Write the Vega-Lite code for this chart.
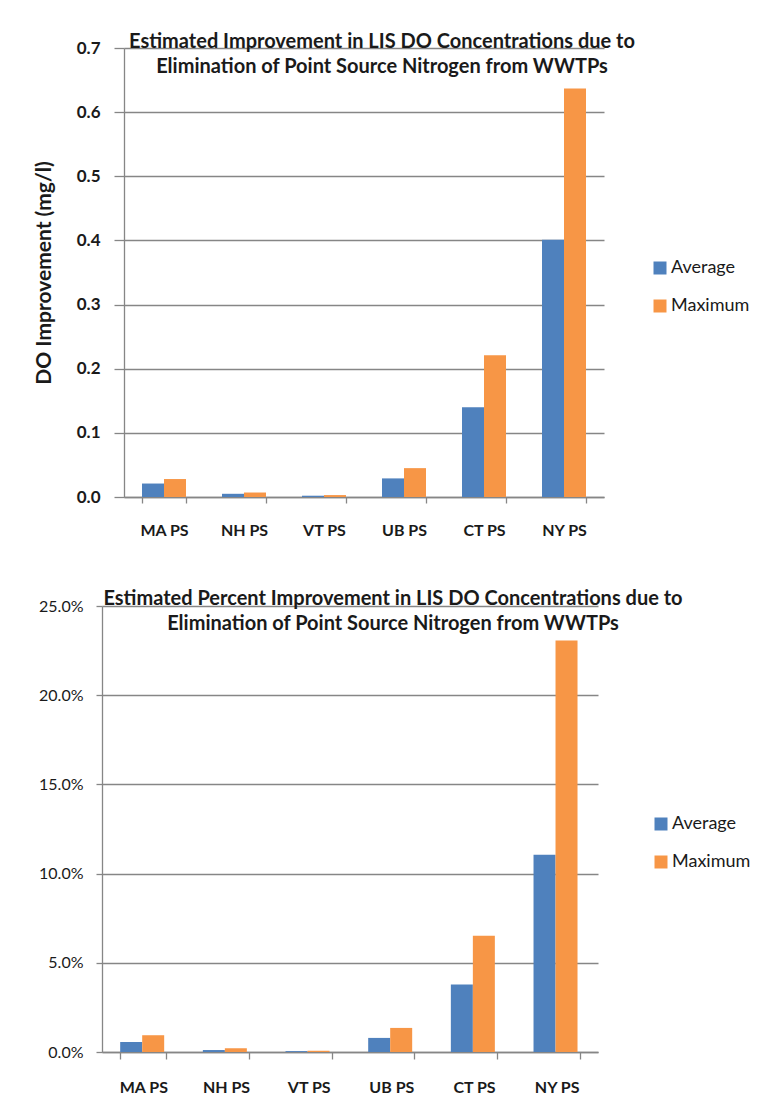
{
  "$schema": "https://vega.github.io/schema/vega-lite/v6.json",
  "background": "white",
  "padding": {"top": 32, "left": 33, "right": 0, "bottom": 0},
  "columns": 1,
  "align": "none",
  "spacing": 51,
  "config": {
    "font": "Lato",
    "view": {"stroke": null},
    "axis": {"domainColor": "#868686", "tickColor": "#868686", "gridColor": "#868686", "gridWidth": 1.3, "domainWidth": 1.3, "tickWidth": 1.3, "labelColor": "#1a1a1a", "titleColor": "#1a1a1a", "labelFont": "Lato", "titleFont": "Lato"},
    "legend": {"labelFont": "Lato", "labelColor": "#1a1a1a"},
    "title": {"font": "Lato", "color": "#1a1a1a"}
  },
  "datasets": {
    "do": [
      {"site": "MA PS", "series": "Average", "value": 0.021},
      {"site": "MA PS", "series": "Maximum", "value": 0.028},
      {"site": "NH PS", "series": "Average", "value": 0.005},
      {"site": "NH PS", "series": "Maximum", "value": 0.007},
      {"site": "VT PS", "series": "Average", "value": 0.002},
      {"site": "VT PS", "series": "Maximum", "value": 0.003},
      {"site": "UB PS", "series": "Average", "value": 0.029},
      {"site": "UB PS", "series": "Maximum", "value": 0.045},
      {"site": "CT PS", "series": "Average", "value": 0.140},
      {"site": "CT PS", "series": "Maximum", "value": 0.221},
      {"site": "NY PS", "series": "Average", "value": 0.401},
      {"site": "NY PS", "series": "Maximum", "value": 0.637}
    ],
    "pct": [
      {"site": "MA PS", "series": "Average", "value": 0.0056},
      {"site": "MA PS", "series": "Maximum", "value": 0.0094},
      {"site": "NH PS", "series": "Average", "value": 0.0011},
      {"site": "NH PS", "series": "Maximum", "value": 0.0021},
      {"site": "VT PS", "series": "Average", "value": 0.0005},
      {"site": "VT PS", "series": "Maximum", "value": 0.0007},
      {"site": "UB PS", "series": "Average", "value": 0.0079},
      {"site": "UB PS", "series": "Maximum", "value": 0.0135},
      {"site": "CT PS", "series": "Average", "value": 0.0379},
      {"site": "CT PS", "series": "Maximum", "value": 0.0652},
      {"site": "NY PS", "series": "Average", "value": 0.1105},
      {"site": "NY PS", "series": "Maximum", "value": 0.2306}
    ],
    "none": []
  },
  "resolve": {"legend": {"color": "independent"}, "scale": {"color": "independent"}},
  "concat": [
    {
      "resolve": {"legend": {"color": "independent"}, "scale": {"color": "independent"}},
      "spacing": 20,
      "bounds": "flush",
      "hconcat": [
        {
          "data": {"name": "none"},
          "width": 2,
          "height": 10,
          "mark": {"type": "point"},
          "encoding": {}
        },
        {
          "data": {"name": "do"},
          "width": 480,
          "height": 449,
          "title": {"text": ["Estimated Improvement in LIS DO Concentrations due to", "Elimination of Point Source Nitrogen from WWTPs"], "fontSize": 20, "fontWeight": "bold", "lineHeight": 25, "anchor": "middle", "offset": -38, "dx": 18},
          "mark": {"type": "bar"},
          "encoding": {
            "x": {"field": "site", "type": "nominal", "sort": ["MA PS", "NH PS", "VT PS", "UB PS", "CT PS", "NY PS"], "scale": {"paddingInner": 0.45, "paddingOuter": 0.225}, "axis": {"title": null, "labelAngle": 0, "labelFontSize": 16, "labelFontWeight": "bold", "labelPadding": 19, "tickSize": 6, "tickBand": "extent", "grid": false}},
            "xOffset": {"field": "series", "type": "nominal", "scale": {"paddingInner": 0, "paddingOuter": 0}},
            "y": {"field": "value", "type": "quantitative", "scale": {"domain": [0, 0.7], "nice": false}, "axis": {"title": "DO Improvement (mg/l)", "titleFontSize": 21, "titleFontWeight": "bold", "titlePadding": 22, "values": [0, 0.1, 0.2, 0.3, 0.4, 0.5, 0.6, 0.7], "format": ".1f", "labelFontSize": 17, "labelFontWeight": "bold", "labelPadding": 14, "tickSize": 10, "grid": true}},
            "color": {"field": "series", "type": "nominal", "scale": {"domain": ["Average", "Maximum"], "range": ["#4F81BD", "#F79646"]}, "legend": {"title": null, "orient": "none", "legendX": 527, "legendY": 211, "symbolType": "square", "symbolSize": 169, "symbolStrokeWidth": 0, "labelFontSize": 18, "rowPadding": 20, "labelOffset": 2}}
          }
        }
      ]
    },
    {
      "resolve": {"legend": {"color": "independent"}, "scale": {"color": "independent"}},
      "hconcat": [
        {
          "data": {"name": "pct"},
          "width": 496,
          "height": 446,
          "title": {"text": ["Estimated Percent Improvement in LIS DO Concentrations due to", "Elimination of Point Source Nitrogen from WWTPs"], "fontSize": 20, "fontWeight": "bold", "lineHeight": 25, "anchor": "middle", "offset": -36, "dx": 43},
          "mark": {"type": "bar"},
          "encoding": {
            "x": {"field": "site", "type": "nominal", "sort": ["MA PS", "NH PS", "VT PS", "UB PS", "CT PS", "NY PS"], "scale": {"paddingInner": 0.44, "paddingOuter": 0.22}, "axis": {"title": null, "labelAngle": 0, "labelFontSize": 16, "labelFontWeight": "bold", "labelPadding": 20, "tickSize": 7, "tickBand": "extent", "grid": false}},
            "xOffset": {"field": "series", "type": "nominal", "scale": {"paddingInner": 0, "paddingOuter": 0}},
            "y": {"field": "value", "type": "quantitative", "scale": {"domain": [0, 0.25], "nice": false}, "axis": {"title": null, "values": [0, 0.05, 0.1, 0.15, 0.2, 0.25], "format": ".1%", "labelFontSize": 16, "labelPadding": 13, "tickSize": 6, "grid": true}},
            "color": {"field": "series", "type": "nominal", "scale": {"domain": ["Average", "Maximum"], "range": ["#4F81BD", "#F79646"]}, "legend": {"title": null, "orient": "none", "legendX": 550, "legendY": 209, "symbolType": "square", "symbolSize": 169, "symbolStrokeWidth": 0, "labelFontSize": 18, "rowPadding": 20, "labelOffset": 2}}
          }
        }
      ]
    }
  ]
}
